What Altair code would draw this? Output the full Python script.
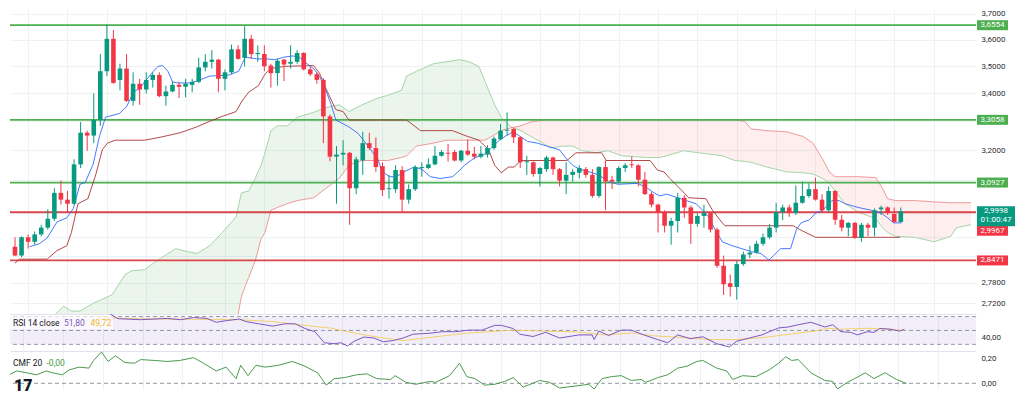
import altair as alt
import pandas as pd

# ---------------- data ----------------
opens = [2.889, 2.862, 2.918, 2.904, 2.927, 2.948, 2.976, 3.059, 3.037, 3.024,
         3.153, 3.261, 3.251, 3.305, 3.481, 3.603, 3.449, 3.491, 3.373, 3.435,
         3.414, 3.449, 3.467, 3.390, 3.407, 3.431, 3.424, 3.431, 3.442, 3.495,
         3.516, 3.524, 3.453, 3.477, 3.563, 3.531, 3.603, 3.545, 3.545, 3.502,
         3.474, 3.524, 3.509, 3.516, 3.549, 3.488, 3.470, 3.449, 3.318, 3.179,
         3.186, 3.192, 3.074, 3.166, 3.225, 3.208, 3.147, 3.071, 3.071, 3.134,
         3.037, 3.071, 3.141, 3.141, 3.153, 3.182, 3.192, 3.195, 3.166, 3.199,
         3.189, 3.179, 3.186, 3.208, 3.238, 3.268, 3.274, 3.245, 3.160, 3.160,
         3.121, 3.137, 3.176, 3.137, 3.099, 3.118, 3.125, 3.137, 3.118, 3.049,
         3.144, 3.102, 3.096, 3.141, 3.153, 3.150, 3.102, 3.055, 3.021, 2.997,
         2.954, 2.969, 3.043, 3.012, 2.960, 2.985, 2.994, 2.942, 2.831, 2.779,
         2.768, 2.836, 2.865, 2.871, 2.898, 2.918, 2.948, 2.997, 3.012, 2.994,
         3.027, 3.049, 3.071, 3.037, 3.003, 3.065, 2.973, 2.948, 2.963, 2.916,
         2.957, 2.948, 3.006, 3.012, 2.991, 2.966]
highs = [2.918, 2.921, 2.927, 2.936, 2.957, 3.006, 3.074, 3.099, 3.065, 3.170,
         3.298, 3.268, 3.400, 3.545, 3.659, 3.637, 3.509, 3.545, 3.477, 3.453,
         3.477, 3.477, 3.477, 3.428, 3.445, 3.442, 3.453, 3.453, 3.531, 3.545,
         3.560, 3.527, 3.488, 3.581, 3.578, 3.651, 3.618, 3.578, 3.578, 3.509,
         3.527, 3.527, 3.578, 3.560, 3.552, 3.499, 3.477, 3.456, 3.325, 3.215,
         3.235, 3.195, 3.179, 3.264, 3.261, 3.245, 3.160, 3.118, 3.150, 3.147,
         3.087, 3.150, 3.160, 3.173, 3.215, 3.202, 3.222, 3.202, 3.202, 3.238,
         3.212, 3.215, 3.218, 3.248, 3.291, 3.332, 3.278, 3.248, 3.182, 3.163,
         3.144, 3.182, 3.179, 3.141, 3.160, 3.137, 3.150, 3.144, 3.137, 3.147,
         3.166, 3.115, 3.147, 3.157, 3.179, 3.153, 3.128, 3.062, 3.024, 3.003,
         2.979, 3.059, 3.052, 3.018, 2.994, 3.021, 2.997, 2.948, 2.862, 2.805,
         2.845, 2.874, 2.892, 2.907, 2.930, 2.960, 3.027, 3.021, 3.021, 3.083,
         3.096, 3.090, 3.109, 3.055, 3.080, 3.068, 2.988, 2.966, 2.966, 2.963,
         2.963, 3.009, 3.018, 3.015, 3.012, 3.012]
lows = [2.860, 2.857, 2.883, 2.895, 2.921, 2.942, 2.969, 3.021, 2.997, 3.021,
        3.141, 3.199, 3.225, 3.285, 3.463, 3.435, 3.411, 3.369, 3.356, 3.359,
        3.400, 3.421, 3.386, 3.356, 3.404, 3.383, 3.386, 3.404, 3.438, 3.481,
        3.491, 3.404, 3.411, 3.470, 3.524, 3.499, 3.527, 3.516, 3.481, 3.421,
        3.428, 3.445, 3.491, 3.509, 3.484, 3.463, 3.435, 3.225, 3.163, 3.024,
        3.150, 2.957, 3.055, 3.118, 3.202, 3.128, 3.049, 3.040, 3.059, 2.997,
        3.024, 3.065, 3.112, 3.137, 3.150, 3.179, 3.163, 3.163, 3.160, 3.182,
        3.170, 3.173, 3.176, 3.202, 3.235, 3.251, 3.225, 3.141, 3.118, 3.112,
        3.080, 3.128, 3.118, 3.080, 3.055, 3.096, 3.106, 3.109, 3.043, 3.043,
        3.003, 3.071, 3.090, 3.128, 3.141, 3.080, 3.052, 3.012, 2.933, 2.933,
        2.895, 2.933, 2.979, 2.898, 2.951, 2.948, 2.933, 2.825, 2.745, 2.740,
        2.731, 2.831, 2.854, 2.868, 2.892, 2.913, 2.933, 2.972, 2.982, 2.988,
        3.024, 3.043, 3.034, 2.997, 2.997, 2.957, 2.936, 2.921, 2.913, 2.904,
        2.921, 2.921, 2.988, 2.988, 2.963, 2.963]
closes = [2.862, 2.918, 2.904, 2.927, 2.948, 2.976, 3.059, 3.037, 3.024, 3.153,
          3.261, 3.251, 3.305, 3.481, 3.603, 3.438, 3.491, 3.373, 3.435, 3.414,
          3.449, 3.467, 3.390, 3.407, 3.431, 3.424, 3.435, 3.442, 3.495, 3.516,
          3.524, 3.453, 3.477, 3.563, 3.527, 3.603, 3.545, 3.549, 3.499, 3.474,
          3.520, 3.506, 3.516, 3.549, 3.488, 3.470, 3.449, 3.318, 3.179, 3.186,
          3.192, 3.074, 3.170, 3.225, 3.208, 3.144, 3.068, 3.074, 3.134, 3.037,
          3.071, 3.144, 3.144, 3.153, 3.182, 3.195, 3.189, 3.166, 3.199, 3.186,
          3.179, 3.189, 3.208, 3.241, 3.268, 3.271, 3.245, 3.160, 3.163, 3.121,
          3.141, 3.176, 3.137, 3.099, 3.118, 3.128, 3.141, 3.118, 3.049, 3.144,
          3.096, 3.096, 3.141, 3.150, 3.150, 3.102, 3.055, 3.021, 2.997, 2.954,
          2.969, 3.043, 3.012, 2.960, 2.985, 2.994, 2.942, 2.831, 2.776, 2.768,
          2.836, 2.865, 2.871, 2.898, 2.918, 2.948, 2.997, 3.012, 2.994, 3.027,
          3.049, 3.071, 3.037, 3.003, 3.065, 2.973, 2.948, 2.963, 2.916, 2.957,
          2.948, 3.003, 3.012, 2.994, 2.966, 2.9998]

tenkan_x = [2.2, 3.7, 4.9, 6.4, 7.9, 8.9, 9.9, 10.7, 11.9, 12.9, 13.8, 15.9, 17.0, 18.1, 19.0,
            20.0, 21.1, 21.8, 22.5, 23.3, 24.0, 24.8, 26.7, 27.7, 29.7, 32.6, 34.1, 35.1, 36.8,
            38.3, 39.6, 41.1, 42.3, 43.3, 44.5, 45.5, 46.4, 47.1, 48.2, 48.9, 50.9, 52.3, 53.8,
            55.3, 56.0, 57.1, 58.1, 59.3, 60.8, 62.0, 63.3, 64.8, 66.7, 67.8, 68.5, 70.1, 71.5,
            72.6, 73.8, 74.9, 75.9, 76.8, 78.1, 79.6, 81.1, 83.0, 84.1, 85.0, 86.0, 87.5, 89.0,
            90.4, 91.9, 94.9, 96.4, 97.4, 98.3, 99.3, 102.3, 103.8, 104.8, 105.7, 106.7, 107.8,
            109.3, 112.2, 113.7, 114.9, 115.6, 116.7, 118.2, 119.1, 119.8, 121.1, 122.0, 123.1,
            124.5, 125.6, 126.5, 128.5, 130.5, 132.0, 133.0, 133.9, 135.1]
tenkan_y = [2.889, 2.898, 2.916, 2.966, 2.979, 3.009, 3.087, 3.093, 3.153, 3.251, 3.315, 3.328,
            3.352, 3.407, 3.417, 3.449, 3.481, 3.499, 3.502, 3.481, 3.442, 3.438, 3.438, 3.445,
            3.463, 3.467, 3.481, 3.534, 3.527, 3.527, 3.524, 3.534, 3.538, 3.534, 3.509, 3.491,
            3.463, 3.428, 3.359, 3.305, 3.281, 3.258, 3.215, 3.170, 3.128, 3.112, 3.112, 3.128,
            3.144, 3.137, 3.112, 3.106, 3.112, 3.134, 3.150, 3.176, 3.186, 3.208, 3.235, 3.251,
            3.264, 3.251, 3.231, 3.225, 3.215, 3.202, 3.170, 3.150, 3.137, 3.128, 3.118, 3.096,
            3.087, 3.090, 3.074, 3.059, 3.049, 3.055, 3.034, 3.024, 3.003, 2.982, 2.942, 2.904,
            2.892, 2.874, 2.868, 2.848, 2.862, 2.883, 2.883, 2.942, 2.963, 2.973, 2.994, 3.003,
            3.034, 3.034, 3.024, 3.012, 3.003, 2.994, 2.979, 2.963, 2.963]

kijun_x = [0.0, 0.7, 4.9, 6.4, 7.9, 8.6, 9.6, 11.1, 12.3, 13.3, 14.1, 15.3, 19.7, 21.2, 22.7,
           25.2, 27.7, 29.7, 31.6, 33.7, 34.5, 35.6, 37.1, 38.1, 39.0, 41.1, 45.5, 46.4, 47.4,
           48.9, 50.0, 50.9, 59.7, 61.8, 66.7, 68.6, 70.7, 72.2, 73.1, 74.1, 75.2, 76.1, 77.1,
           84.1, 85.5, 89.4, 90.1, 96.8, 97.9, 98.9, 99.8, 101.3, 102.7, 105.3, 106.3, 107.8,
           108.2, 118.6, 119.6, 122.0, 134.9]
kijun_y = [2.839, 2.851, 2.851, 2.877, 2.892, 2.933, 3.024, 3.040, 3.118, 3.202, 3.225, 3.235,
           3.235, 3.241, 3.248, 3.261, 3.281, 3.301, 3.318, 3.335, 3.369, 3.404, 3.428, 3.470,
           3.491, 3.499, 3.502, 3.474, 3.417, 3.342, 3.335, 3.305, 3.305, 3.268, 3.268, 3.251,
           3.235, 3.202, 3.150, 3.125, 3.144, 3.144, 3.166, 3.166, 3.192, 3.192, 3.166, 3.166,
           3.134, 3.128, 3.106, 3.074, 3.043, 3.040, 3.003, 2.963, 2.954, 2.954, 2.942, 2.918,
           2.918]

cloud_x = [5.9, 7.4, 8.6, 9.9, 11.9, 14.8, 16.8, 17.8, 19.7, 22.2, 24.5, 25.6, 27.7, 29.7, 31.6,
           33.7, 34.5, 35.6, 36.6, 37.5, 38.1, 39.0, 40.0, 41.5, 43.0, 45.5, 47.4, 49.4, 50.9,
           52.9, 55.3, 56.8, 58.9, 59.7, 61.2, 63.8, 65.7, 67.8, 69.2, 70.7, 71.6, 73.1, 74.1,
           75.6, 77.1, 78.6, 80.5, 81.5, 83.5, 85.0, 86.4, 88.5, 90.4, 92.4, 94.4, 96.4, 98.3,
           99.3, 101.9, 104.2, 107.8, 109.7, 111.2, 112.2, 114.6, 117.6, 120.1, 121.6, 123.1,
           124.1, 125.0, 126.5, 128.5, 131.2, 132.2, 133.0, 134.2, 137.1, 140.1, 142.6, 143.5,
           145.7]
span_a = [2.684, 2.712, 2.698, 2.698, 2.720, 2.745, 2.805, 2.816, 2.819, 2.854, 2.883, 2.877,
          2.868, 2.892, 2.933, 2.982, 3.059, 3.065, 3.106, 3.150, 3.192, 3.268, 3.285, 3.285,
          3.315, 3.332, 3.349, 3.359, 3.335, 3.359, 3.383, 3.393, 3.411, 3.463, 3.481, 3.509,
          3.516, 3.524, 3.516, 3.499, 3.445, 3.359, 3.315, 3.281, 3.268, 3.248, 3.225, 3.208,
          3.215, 3.215, 3.199, 3.192, 3.199, 3.182, 3.179, 3.176, 3.176, 3.182, 3.199, 3.192,
          3.182, 3.166, 3.163, 3.160, 3.144, 3.128, 3.125, 3.121, 3.106, 3.090, 3.065, 3.024,
          2.997, 2.976, 2.948, 2.933, 2.921, 2.918, 2.904, 2.921, 2.948, 2.957]
span_b = [2.600, 2.600, 2.600, 2.600, 2.600, 2.600, 2.600, 2.600, 2.600, 2.600, 2.600, 2.600,
          2.600, 2.600, 2.600, 2.657, 2.740, 2.796, 2.845, 2.913, 2.933, 3.003, 3.012, 3.024,
          3.034, 3.043, 3.074, 3.106, 3.150, 3.166, 3.166, 3.166, 3.176, 3.182, 3.215, 3.225,
          3.235, 3.235, 3.235, 3.235, 3.235, 3.254, 3.268, 3.278, 3.285, 3.298, 3.305, 3.306,
          3.306, 3.306, 3.306, 3.306, 3.306, 3.306, 3.306, 3.306, 3.306, 3.306, 3.306, 3.306,
          3.306, 3.306, 3.301, 3.274, 3.268, 3.264, 3.248, 3.225, 3.170, 3.128, 3.112, 3.112,
          3.112, 3.109, 3.074, 3.040, 3.034, 3.034, 3.030, 3.027, 3.027, 3.027]

green_levels = [3.6554, 3.3058, 3.0927]
red_levels = [2.9967, 2.8471]
price_ticks = [3.7, 3.6, 3.5, 3.4, 3.3, 3.2, 3.1, 3.0, 2.92, 2.86, 2.78, 2.72]
price_labels = [3.7, 3.6, 3.5, 3.4, 3.2, 2.78, 2.72]
grid_x = [2, 8, 14, 20, 26, 32, 38, 44, 50, 56, 62, 68, 74, 80, 86, 92, 98, 104, 110, 116,
          122, 128, 134, 140]
countdown = "01:00:47"

rsi_x = [13.0, 14.8, 16.3, 19.7, 23.7, 25.7, 27.7, 29.7, 31.1, 32.6, 34.6, 35.6, 37.5, 39.6,
         41.5, 43.0, 44.5, 46.0, 47.4, 48.9, 49.9, 50.9, 51.9, 53.4, 54.9, 56.3, 57.8, 59.3,
         60.8, 63.3, 65.2, 67.2, 69.2, 71.2, 73.1, 74.1, 75.9, 76.9, 78.9, 80.8, 82.9, 85.8,
         87.8, 88.1, 88.8, 90.3, 92.2, 93.7, 95.6, 97.7, 99.2, 100.7, 102.6, 104.5, 106.6,
         108.5, 109.6, 111.5, 113.4, 115.9, 117.4, 118.9, 120.8, 122.9, 124.1, 125.3, 126.8,
         127.8, 129.3, 130.3, 131.2, 132.7, 134.2, 134.9]
rsi_v = [82.0, 75.5, 66.9, 65.5, 67.3, 65.5, 68.6, 67.3, 61.8, 64.1, 66.4, 62.8, 59.6, 56.3,
         59.6, 59.6, 52.8, 48.2, 32.3, 30.9, 32.3, 27.7, 34.5, 40.5, 39.1, 33.7, 35.5, 39.1,
         44.6, 46.0, 48.2, 48.2, 50.5, 50.5, 57.3, 57.3, 52.8, 44.6, 41.3, 47.3, 39.1, 43.6,
         43.6, 36.8, 49.1, 42.7, 50.5, 50.5, 43.6, 36.8, 32.3, 43.6, 38.2, 40.9, 30.9, 26.3,
         34.5, 39.1, 43.6, 53.6, 55.0, 58.2, 61.8, 55.0, 58.2, 48.2, 47.3, 43.6, 48.2, 47.3,
         52.8, 51.9, 49.1, 51.80]
ma_x = [13.0, 16.3, 23.7, 34.5, 39.6, 44.5, 48.5, 51.9, 55.9, 58.3, 59.3, 64.2, 69.2, 75.9,
        80.8, 85.8, 89.7, 93.7, 97.1, 101.6, 105.6, 109.6, 113.4, 117.9, 121.4, 123.4, 125.3,
        129.3, 132.7, 134.9]
ma_v = [70.0, 67.3, 66.4, 65.5, 62.8, 57.3, 53.2, 46.4, 39.6, 36.8, 35.5, 40.9, 46.4, 50.5,
        49.1, 47.7, 43.6, 46.4, 42.3, 39.6, 36.8, 36.8, 39.6, 45.0, 49.1, 53.2, 51.8, 53.2,
        51.8, 49.72]
rsi_levels = [70, 50, 30]
rsi_ticks = [40]

cmf_x = [0.0, 1.0, 2.5, 4.0, 5.5, 6.4, 7.9, 8.9, 10.4, 11.9, 12.6, 13.8, 14.8, 15.9, 17.3,
         18.8, 19.7, 21.8, 23.7, 25.6, 27.7, 29.2, 31.1, 32.6, 34.1, 34.8, 35.9, 37.1, 38.5,
         40.5, 42.6, 44.5, 46.4, 47.7, 48.9, 50.4, 52.3, 53.8, 55.3, 57.4, 58.1, 59.7, 61.2,
         63.3, 64.2, 66.3, 67.8, 68.9, 70.1, 71.6, 73.1, 74.6, 75.9, 77.4, 79.9, 81.4, 82.9,
         86.3, 87.3, 88.1, 89.3, 90.7, 92.2, 93.7, 95.2, 95.9, 97.7, 99.2, 100.7, 102.1, 103.6,
         104.5, 106.6, 108.1, 109.0, 110.5, 112.5, 114.5, 115.9, 117.0, 117.9, 118.9, 120.8,
         122.9, 124.1, 124.8, 126.3, 127.4, 129.0, 130.3, 132.0, 133.7, 135.2]
cmf_v = [0.072, 0.100, 0.085, 0.069, 0.100, 0.085, 0.069, 0.108, 0.131, 0.123, 0.185, 0.254,
         0.177, 0.223, 0.169, 0.162, 0.192, 0.185, 0.177, 0.185, 0.208, 0.162, 0.100, 0.131,
         0.038, 0.146, 0.062, 0.146, 0.131, 0.146, 0.177, 0.138, 0.085, -0.015, 0.038, 0.046,
         0.069, 0.077, 0.038, 0.031, 0.062, 0.008, -0.008, 0.015, 0.008, 0.062, 0.162, 0.054,
         0.038, -0.015, -0.008, 0.015, 0.046, -0.031, 0.023, 0.008, -0.038, -0.015, -0.008,
         -0.046, 0.038, 0.054, 0.062, 0.023, 0.031, 0.008, 0.046, 0.069, 0.123, 0.138, 0.177,
         0.185, 0.123, 0.100, 0.031, 0.062, 0.054, 0.108, 0.162, 0.215, 0.185, 0.192, 0.085,
         0.023, 0.015, -0.046, 0.008, 0.038, 0.085, 0.038, 0.085, 0.031, -0.001]
cmf_levels = [0.0]
cmf_ticks = [0.2, 0.0]

# ---------------- layout / style ----------------
W = 966
H_MAIN, H_RSI, H_CMF = 305, 37, 38
XDOM = [0, 145.7]
PDOM = [2.6896, 3.7189]
RDOM = [20.44, 73.69]
CDOM = [-0.046, 0.2615]
FONT = "Roboto"
UP, DOWN = "#089981", "#f23645"
GRID = "#eef1f6"
SEP = "#e0e3eb"
TXT = "#2a2e39"

XSC = alt.Scale(domain=XDOM, nice=False, zero=False)


def x_axis(sep):
    return alt.Axis(values=grid_x, labels=False, ticks=False, grid=True, gridColor=GRID,
                    gridWidth=1, domain=sep, domainColor=SEP, title=None)


AX_MAIN = x_axis(True)
AX_RSI = x_axis(True)
AX_CMF = x_axis(False)

label_list = "[" + ", ".join(str(v) for v in price_labels) + "]"
PSC = alt.Scale(type="log", domain=PDOM, nice=False, zero=False)
AY_MAIN = alt.Axis(orient="right", values=price_ticks, grid=True, gridColor=GRID, domain=False,
                   ticks=False, labelPadding=5, labelFontSize=8, labelColor=TXT, labelFont=FONT,
                   labelOverlap=False, labelFlush=False, labelBound=False, title=None,
                   labelExpr=f"indexof({label_list}, datum.value) >= 0 ? "
                             "replace(format(datum.value, '.4f'), '.', ',') : ''")


def MX(f):
    return alt.X(f"{f}:Q", scale=XSC, axis=AX_MAIN)


def PY(f):
    return alt.Y(f"{f}:Q", scale=PSC, axis=AY_MAIN)


# ---------------- main price pane ----------------
candles = pd.DataFrame({"i": list(range(len(opens))), "o": opens, "h": highs,
                        "l": lows, "c": closes})
cond = alt.condition("datum.c >= datum.o", alt.value(UP), alt.value(DOWN))
cb = alt.Chart(candles)
wicks = cb.mark_rule(strokeWidth=1, clip=True).encode(x=MX("i"), y=PY("l"), y2=alt.Y2("h"),
                                                       color=cond)
bodies = cb.mark_bar(width=4.6, clip=True).encode(x=MX("i"), y=PY("o"), y2=alt.Y2("c"),
                                                  color=cond)

cloud = pd.DataFrame({"i": cloud_x, "a": span_a, "b": span_b})
clb = alt.Chart(cloud).transform_calculate(lo="min(datum.a, datum.b)")
fill_g = clb.mark_area(color="#43a047", opacity=0.10, clip=True).encode(
    x=MX("i"), y=PY("a"), y2=alt.Y2("lo"))
fill_r = clb.mark_area(color="#f44336", opacity=0.09, clip=True).encode(
    x=MX("i"), y=PY("b"), y2=alt.Y2("lo"))
line_a = clb.mark_line(color="#a5d6a7", strokeWidth=1, clip=True).encode(x=MX("i"), y=PY("a"))
line_b = clb.mark_line(color="#ef9a9a", strokeWidth=1, clip=True).encode(x=MX("i"), y=PY("b"))

tk = pd.DataFrame({"i": tenkan_x, "p": tenkan_y})
kj = pd.DataFrame({"i": kijun_x, "p": kijun_y})
tenkan = alt.Chart(tk).mark_line(color="#2962ff", strokeWidth=1, opacity=0.85, clip=True).encode(
    x=MX("i"), y=PY("p"))
kijun = alt.Chart(kj).mark_line(color="#a52a2a", strokeWidth=1, opacity=0.85, clip=True).encode(
    x=MX("i"), y=PY("p"))

gl = pd.DataFrame({"p": green_levels})
rl = pd.DataFrame({"p": red_levels, "k": list(range(len(red_levels)))})
g_rules = alt.Chart(gl).mark_rule(color="#4caf50", strokeWidth=1.8).encode(y=PY("p"))
r_rules = alt.Chart(rl).mark_rule(color="#d9474b", strokeWidth=1.8).encode(y=PY("p"))

LBL = "replace(format(datum.p, '.4f'), '.', ',')"
BOX = "M-1,-0.3226L1,-0.3226L1,0.3226L-1,0.3226Z"
BOX_BIG = "M-1,-0.5263L1,-0.5263L1,0.5263L-1,0.5263Z"
bx = W + 16.5

g_box = alt.Chart(gl).mark_point(shape=BOX, size=961, filled=True, opacity=1, strokeWidth=0,
                                 color="#4caf50", clip=False).encode(x=alt.value(bx), y=PY("p"))
g_txt = alt.Chart(gl).transform_calculate(t=LBL).mark_text(
    color="white", fontSize=8, font=FONT, clip=False).encode(x=alt.value(bx), y=PY("p"),
                                                             text="t:N")
r_low = alt.Chart(rl).transform_filter("datum.k == 1")
r_box1 = r_low.mark_point(shape=BOX, size=961, filled=True, opacity=1, strokeWidth=0,
                          color=DOWN, clip=False).encode(x=alt.value(bx), y=PY("p"))
r_txt1 = r_low.transform_calculate(t=LBL).mark_text(
    color="white", fontSize=8, font=FONT, clip=False).encode(x=alt.value(bx), y=PY("p"),
                                                             text="t:N")
r_hi = alt.Chart(rl).transform_filter("datum.k == 0")
r_box0 = r_hi.mark_point(shape=BOX, size=961, filled=True, opacity=1, strokeWidth=0,
                         color=DOWN, yOffset=18.5, clip=False).encode(x=alt.value(bx), y=PY("p"))
r_txt0 = r_hi.transform_calculate(t=LBL).mark_text(
    color="white", fontSize=8, font=FONT, yOffset=18.5, clip=False).encode(
    x=alt.value(bx), y=PY("p"), text="t:N")

last = pd.DataFrame({"p": [closes[-1]], "cd": [countdown]})
cx = W + 20
c_box = alt.Chart(last).mark_point(shape=BOX_BIG, size=1444, filled=True, opacity=1,
                                   strokeWidth=0, color=UP, yOffset=5, clip=False).encode(
    x=alt.value(cx), y=PY("p"))
c_txt = alt.Chart(last).transform_calculate(t=LBL).mark_text(
    color="white", fontSize=8, font=FONT, yOffset=-0.5, clip=False).encode(
    x=alt.value(cx), y=PY("p"), text="t:N")
c_cd = alt.Chart(last).mark_text(color="white", fontSize=8, font=FONT, yOffset=8.6,
                                 clip=False).encode(x=alt.value(cx), y=PY("p"), text="cd:N")

main = alt.layer(
    fill_g, fill_r, line_a, line_b, g_rules, r_rules, kijun, tenkan, wicks, bodies,
    g_box, g_txt, r_box1, r_txt1, r_box0, r_txt0, c_box, c_txt, c_cd
).properties(width=W, height=H_MAIN)

# ---------------- RSI pane ----------------
RSC = alt.Scale(domain=RDOM, nice=False, zero=False)
AY_RSI = alt.Axis(orient="right", values=rsi_ticks, grid=False, domain=False, ticks=False,
                  labelPadding=5, labelFontSize=8, labelColor=TXT, labelFont=FONT,
                  labelFlush=False, title=None,
                  labelExpr="replace(format(datum.value, '.2f'), '.', ',')")


def RX(f):
    return alt.X(f"{f}:Q", scale=XSC, axis=AX_RSI)


def RY(f):
    return alt.Y(f"{f}:Q", scale=RSC, axis=AY_RSI)


band_df = pd.DataFrame({"top": [rsi_levels[0]], "bot": [rsi_levels[-1]]})
band = alt.Chart(band_df).mark_rect(color="#7e57c2", opacity=0.1).encode(
    x=alt.value(0), x2=alt.value(W), y=RY("top"), y2=alt.Y2("bot"))
rsi_rules = alt.Chart(pd.DataFrame({"v": rsi_levels})).mark_rule(
    color="#9598a1", strokeDash=[4, 3], strokeWidth=1).encode(y=RY("v"))
rsi_line = alt.Chart(pd.DataFrame({"i": rsi_x, "v": rsi_v})).mark_line(
    color="#7e57c2", strokeWidth=1, clip=True).encode(x=RX("i"), y=RY("v"))
ma_line = alt.Chart(pd.DataFrame({"i": ma_x, "v": ma_v})).mark_line(
    color="#f2c94c", strokeWidth=1, opacity=0.8, clip=True).encode(x=RX("i"), y=RY("v"))

rsi_lbl_bg = alt.Chart(pd.DataFrame({"z": [0]})).mark_rect(color="white", opacity=0.65).encode(
    x=alt.value(0), x2=alt.value(103), y=alt.value(2), y2=alt.value(15))
rsi_lbl = pd.DataFrame({
    "t": ["RSI 14 close",
          f"{rsi_v[-1]:.2f}".replace(".", ","),
          f"{ma_v[-1]:.2f}".replace(".", ",")],
    "px": [3, 54, 80.5],
    "col": ["#131722", "#7e57c2", "#f0b429"],
})
rsi_txt = alt.Chart(rsi_lbl).mark_text(align="left", baseline="middle", fontSize=8.5,
                                       font=FONT).encode(
    x=alt.X("px:Q", scale=None), y=alt.value(8.6), text="t:N",
    color=alt.Color("col:N", scale=None))

rsi = alt.layer(band, rsi_rules, ma_line, rsi_line, rsi_lbl_bg, rsi_txt).properties(
    width=W, height=H_RSI)

# ---------------- CMF pane ----------------
CSC = alt.Scale(domain=CDOM, nice=False, zero=False)
AY_CMF = alt.Axis(orient="right", values=cmf_ticks, grid=False, domain=False, ticks=False,
                  labelPadding=5, labelFontSize=8, labelColor=TXT, labelFont=FONT,
                  labelFlush=False, title=None,
                  labelExpr="replace(format(datum.value, '.2f'), '.', ',')")


def CX(f):
    return alt.X(f"{f}:Q", scale=XSC, axis=AX_CMF)


def CY(f):
    return alt.Y(f"{f}:Q", scale=CSC, axis=AY_CMF)


cmf_rule = alt.Chart(pd.DataFrame({"v": cmf_levels})).mark_rule(
    color="#9598a1", strokeDash=[4, 3], strokeWidth=1).encode(y=CY("v"))
cmf_line = alt.Chart(pd.DataFrame({"i": cmf_x, "v": cmf_v})).mark_line(
    color="#4c9a50", strokeWidth=1, clip=True).encode(x=CX("i"), y=CY("v"))
cmf_lbl = pd.DataFrame({
    "t": ["CMF 20", f"{cmf_v[-1]:.2f}".replace(".", ",")],
    "px": [3, 36.5],
    "col": ["#131722", "#43a047"],
})
cmf_txt = alt.Chart(cmf_lbl).mark_text(align="left", baseline="middle", fontSize=8.5,
                                       font=FONT).encode(
    x=alt.X("px:Q", scale=None), y=alt.value(11.5), text="t:N",
    color=alt.Color("col:N", scale=None))
logo = alt.Chart(pd.DataFrame({"t": ["17"]})).mark_text(
    align="left", baseline="alphabetic", fontSize=16, fontWeight=900, font=FONT,
    color="#131722", clip=False).encode(x=alt.value(4), y=alt.value(40), text="t:N")

cmf = alt.layer(cmf_rule, cmf_line, cmf_txt, logo).properties(width=W, height=H_CMF)

chart = alt.vconcat(main, rsi, cmf, spacing=0, bounds="flush").properties(
    padding=0, background="white"
).configure_view(stroke="transparent").configure_text(font=FONT)

chart.save("out.html", embed_options={"renderer": "svg", "actions": False})
